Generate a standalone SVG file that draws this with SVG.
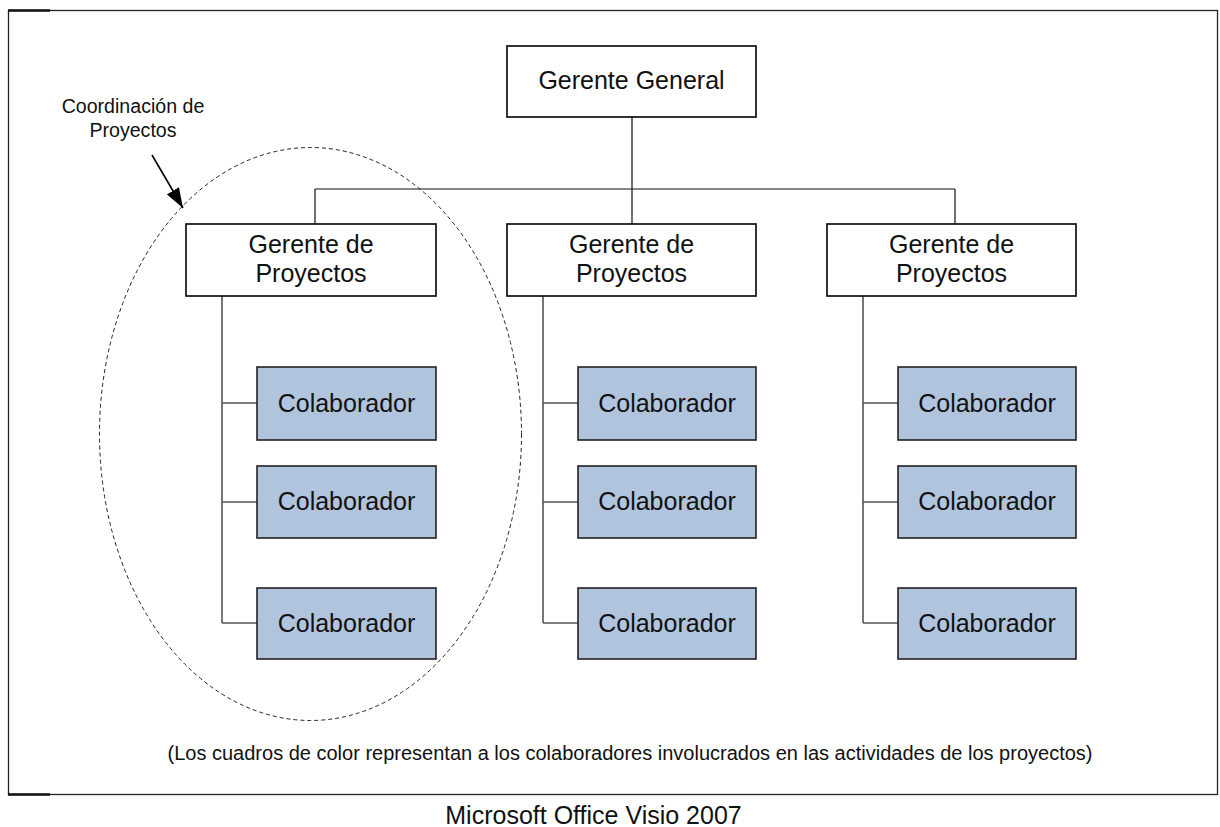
<svg xmlns="http://www.w3.org/2000/svg" width="1220" height="827" viewBox="0 0 1220 827">
  <defs>
    <style>
      text { font-family: "Liberation Sans", Arial, sans-serif; fill: #111; text-anchor: middle; }
      .box { fill: #ffffff; stroke: #111; stroke-width: 1.7; }
      .collab { fill: #b0c4de; stroke: #222; stroke-width: 1.6; }
      .lbl { font-size: 25px; }
      .note { font-size: 19.6px; }
      .link { fill: none; stroke: #111; stroke-width: 1.2; }
      .trunk { fill: none; stroke: #555; stroke-width: 1.6; }
      .frame { fill: none; stroke: #222; stroke-width: 1.3; }
    </style>
    <marker id="arrowhead" viewBox="0 0 20 14" refX="20" refY="7" markerWidth="20" markerHeight="14" markerUnits="userSpaceOnUse" orient="auto">
      <path d="M0,0 L20,7 L0,14 Z" fill="#000"/>
    </marker>
  </defs>

  <rect width="1220" height="827" fill="#ffffff"/>

  <!-- page frame -->
  <g id="frame">
    <rect class="frame" x="8.5" y="10.5" width="1209" height="784"/>
    <line x1="8" y1="10.5" x2="50" y2="10.5" stroke="#111" stroke-width="2.6"/>
    <line x1="8" y1="794.5" x2="50" y2="794.5" stroke="#111" stroke-width="2.6"/>
  </g>

  <!-- connectors -->
  <g id="connectors">
    <path class="link" d="M632,117 V189 M315,189 H955 M315,189 V224 M632,189 V224 M955,189 V224"/>
    <path class="trunk" d="M222,296 V623 M222,403 H257 M222,502 H257 M222,623 H257"/>
    <path class="trunk" d="M543,296 V623 M543,403 H578 M543,502 H578 M543,623 H578"/>
    <path class="trunk" d="M863,296 V623 M863,403 H898 M863,502 H898 M863,623 H898"/>
  </g>

  <!-- project coordination group -->
  <g id="coordination">
    <ellipse cx="310.5" cy="434" rx="211" ry="286.5" fill="none" stroke="#222" stroke-width="1" stroke-dasharray="4 3"/>
    <line x1="152" y1="155" x2="183" y2="208" stroke="#000" stroke-width="1.6" marker-end="url(#arrowhead)"/>
    <text class="note" x="133" y="113">Coordinación de</text>
    <text class="note" x="133" y="137">Proyectos</text>
  </g>

  <g id="gerente-general">
    <rect class="box" x="507" y="46" width="249" height="71"/>
    <text class="lbl" x="631.5" y="89">Gerente General</text>
  </g>

  <g id="gerente-proyectos-1">
    <rect class="box" x="186" y="224" width="250" height="72"/>
    <text class="lbl" x="311" y="253">Gerente de</text>
    <text class="lbl" x="311" y="282">Proyectos</text>
  </g>
  <g id="gerente-proyectos-2">
    <rect class="box" x="507" y="224" width="249" height="72"/>
    <text class="lbl" x="631.5" y="253">Gerente de</text>
    <text class="lbl" x="631.5" y="282">Proyectos</text>
  </g>
  <g id="gerente-proyectos-3">
    <rect class="box" x="827" y="224" width="249" height="72"/>
    <text class="lbl" x="951.5" y="253">Gerente de</text>
    <text class="lbl" x="951.5" y="282">Proyectos</text>
  </g>

  <!-- collaborators, column 1 -->
  <g id="colaborador-1-1">
    <rect class="collab" x="257" y="367" width="179" height="73"/>
    <text class="lbl" x="346.5" y="412">Colaborador</text>
  </g>
  <g id="colaborador-1-2">
    <rect class="collab" x="257" y="466" width="179" height="72"/>
    <text class="lbl" x="346.5" y="510">Colaborador</text>
  </g>
  <g id="colaborador-1-3">
    <rect class="collab" x="257" y="588" width="179" height="71"/>
    <text class="lbl" x="346.5" y="632">Colaborador</text>
  </g>

  <!-- collaborators, column 2 -->
  <g id="colaborador-2-1">
    <rect class="collab" x="578" y="367" width="178" height="73"/>
    <text class="lbl" x="667" y="412">Colaborador</text>
  </g>
  <g id="colaborador-2-2">
    <rect class="collab" x="578" y="466" width="178" height="72"/>
    <text class="lbl" x="667" y="510">Colaborador</text>
  </g>
  <g id="colaborador-2-3">
    <rect class="collab" x="578" y="588" width="178" height="71"/>
    <text class="lbl" x="667" y="632">Colaborador</text>
  </g>

  <!-- collaborators, column 3 -->
  <g id="colaborador-3-1">
    <rect class="collab" x="898" y="367" width="178" height="73"/>
    <text class="lbl" x="987" y="412">Colaborador</text>
  </g>
  <g id="colaborador-3-2">
    <rect class="collab" x="898" y="466" width="178" height="72"/>
    <text class="lbl" x="987" y="510">Colaborador</text>
  </g>
  <g id="colaborador-3-3">
    <rect class="collab" x="898" y="588" width="178" height="71"/>
    <text class="lbl" x="987" y="632">Colaborador</text>
  </g>

  <text x="630" y="760" font-size="20">(Los cuadros de color representan a los colaboradores involucrados en las actividades de los proyectos)</text>
  <text x="593.5" y="824" font-size="25">Microsoft Office Visio 2007</text>
</svg>
